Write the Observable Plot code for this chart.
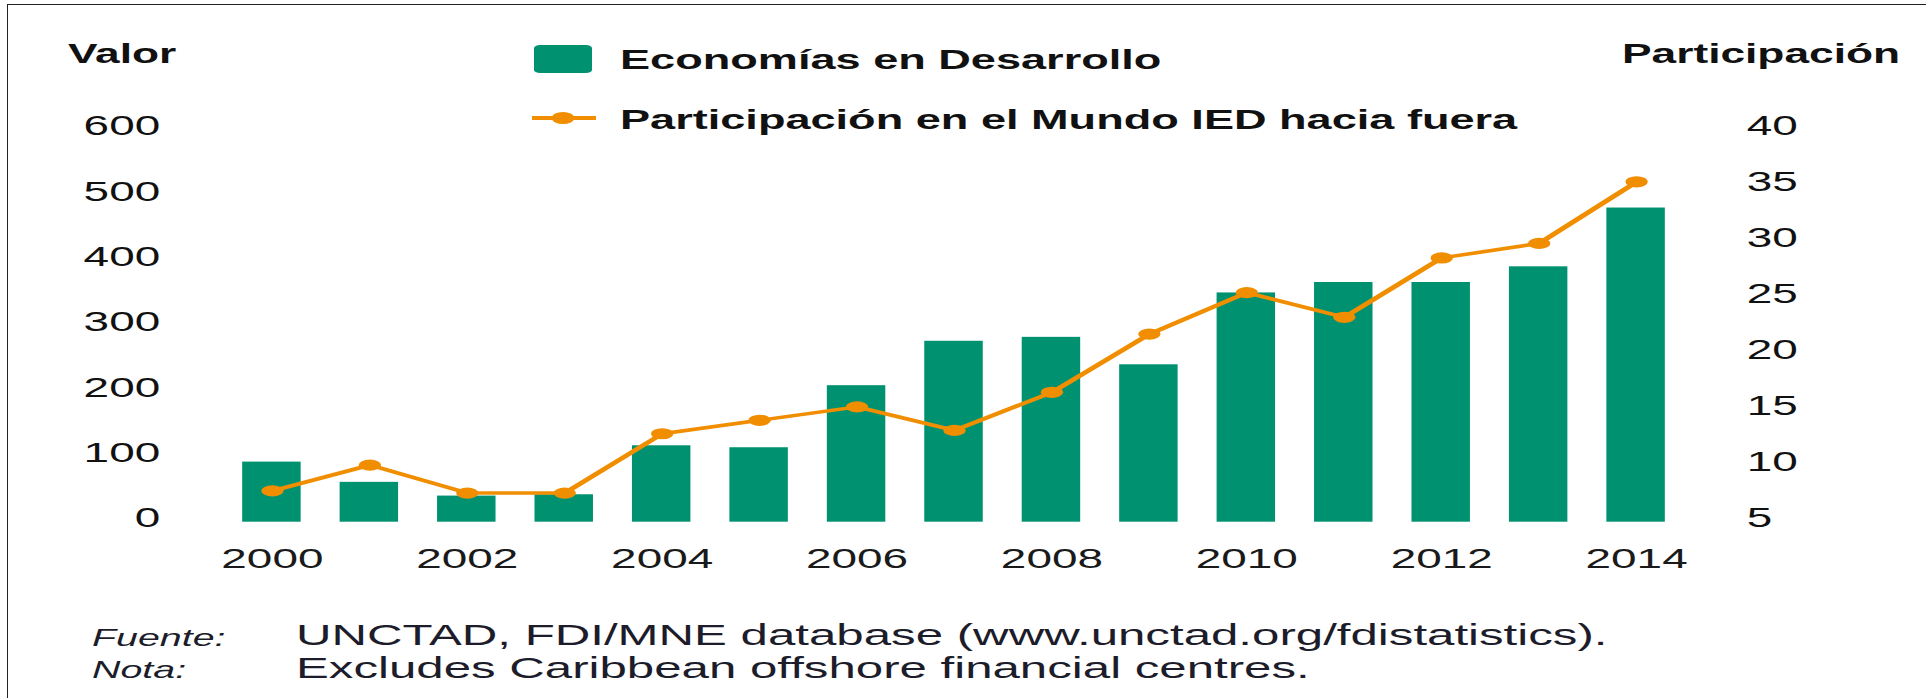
<!DOCTYPE html>
<html>
<head>
<meta charset="utf-8">
<script src="https://cdn.jsdelivr.net/npm/d3@7"></script>
<script src="https://cdn.jsdelivr.net/npm/@observablehq/plot@0.6"></script>
<style>
  html, body { margin:0; padding:0; background:#fff; width:1926px; height:698px; overflow:hidden; }
  #frame { position:absolute; left:7px; top:4px; width:1919px; height:694px; border-top:1.5px solid #222; border-left:1.5px solid #222; box-sizing:border-box; }
  #stage { position:absolute; left:0; top:0; width:963px; height:698px; transform:scaleX(2); transform-origin:0 0;
           font-family:"Liberation Sans",Arial,sans-serif; color:#111; }
  .abs { position:absolute; white-space:nowrap; line-height:1; }
  .nar { transform:scaleX(0.82); transform-origin:0 50%; }
  .hdr { font-weight:bold; font-size:27px; }
  .leg { font-weight:bold; font-size:27.5px; }
  .cap-l { font-style:italic; font-size:24px; color:#1c1c2a; }
  .cap-b { font-size:30px; color:#1c1c2a; }
  #chart { position:absolute; left:0; top:0; }
</style>
</head>
<body>
<div id="frame"></div>
<div id="stage">
  <div id="chart"></div>
  <div class="abs nar hdr" style="left:33.5px; top:41px;">Valor</div>
  <div class="abs nar hdr" style="left:810.5px; top:41px;">Participación</div>
  <div class="abs" style="left:267px; top:45px; width:28.5px; height:28px; background:#009270; border-radius:3px;"></div>
  <div class="abs nar leg" style="left:310px; top:45.5px;">Economías en Desarrollo</div>
  <div class="abs" style="left:266px; top:116.2px; width:31.5px; height:3.6px; background:#F08E00;"></div>
  <div class="abs" style="left:275.9px; top:112.4px; width:11.2px; height:11.2px; border-radius:50%; background:#F08E00;"></div>
  <div class="abs nar leg" style="left:310px; top:105.7px;">Participación en el Mundo IED hacia fuera</div>
  <div class="abs nar cap-l" style="left:46px; top:625.7px;">Fuente:</div>
  <div class="abs nar cap-b" style="left:147.5px; top:619.6px;">UNCTAD, FDI/MNE database (www.unctad.org/fdistatistics).</div>
  <div class="abs nar cap-l" style="left:46px; top:657.7px;">Nota:</div>
  <div class="abs nar cap-b" style="left:147.5px; top:652.6px;">Excludes Caribbean offshore financial centres.</div>
</div>
<script>
const years = [2000, 2001, 2002, 2003, 2004, 2005, 2006, 2007, 2008, 2009, 2010, 2011, 2012, 2013, 2014];
const valor = [92, 61, 40, 42, 117, 114, 209, 277, 283, 241, 351, 367, 367, 391, 481];
const participacion = [7.8, 10.1, 7.6, 7.6, 12.9, 14.1, 15.3, 13.2, 16.6, 21.8, 25.5, 23.3, 28.6, 29.9, 35.4];
const leftTicks = [0, 100, 200, 300, 400, 500, 600];
const rightTicks = [5, 10, 15, 20, 25, 30, 35, 40];
const yearTicks = [2000, 2002, 2004, 2006, 2008, 2010, 2012, 2014];

const GREEN = "#009270";
const ORANGE = "#F08E00";

// right axis (5–40) shares the pixel range of the left axis (0–600)
const toLeft = s => (s - 5) * 600 / 35;
const fromLeft = v => Math.round(5 + v * 35 / 600);

const data = years.map((year, i) => ({year, valor: valor[i], part: participacion[i]}));

const chart = Plot.plot({
  width: 963,
  height: 600,
  marginLeft: 101.6,
  marginRight: 111.1,
  marginTop: 0,
  marginBottom: 78.3,
  style: {
    fontFamily: '"Liberation Sans",Arial,sans-serif',
    fontSize: "28px",
    color: "#111",
    background: "transparent",
    overflow: "visible"
  },
  x: {type: "band", domain: years, padding: 0.4, round: false},
  y: {domain: [0, 600], range: [521.7, 129.8]},
  marks: [
    Plot.barY(data, {x: "year", y: "valor", fill: GREEN}),
    Plot.line(data, {x: "year", y: d => toLeft(d.part), stroke: ORANGE, strokeWidth: 3.5}),
    Plot.dot(data, {x: "year", y: d => toLeft(d.part), r: 5.6, fill: ORANGE}),
    Plot.axisY({anchor: "left", ticks: leftTicks, tickSize: 0, tickPadding: 22, label: null, dy: -4, fill: "#111"}),
    Plot.axisY({anchor: "right", ticks: rightTicks.map(toLeft), tickFormat: fromLeft, tickSize: 0, tickPadding: 21, label: null, dy: -4, fill: "#111"}),
    Plot.axisX({ticks: yearTicks, tickFormat: d => String(d), tickSize: 0, tickPadding: 26.3, label: null, fill: "#1a1a1a"})
  ]
});
document.getElementById("chart").appendChild(chart);

// narrow the glyphs (the reference uses a condensed face)
chart.querySelectorAll("text").forEach(t => {
  const len = t.getComputedTextLength();
  if (len > 0) {
    t.setAttribute("textLength", (len * 0.82).toFixed(2));
    t.setAttribute("lengthAdjust", "spacingAndGlyphs");
  }
});
</script>
</body>
</html>
